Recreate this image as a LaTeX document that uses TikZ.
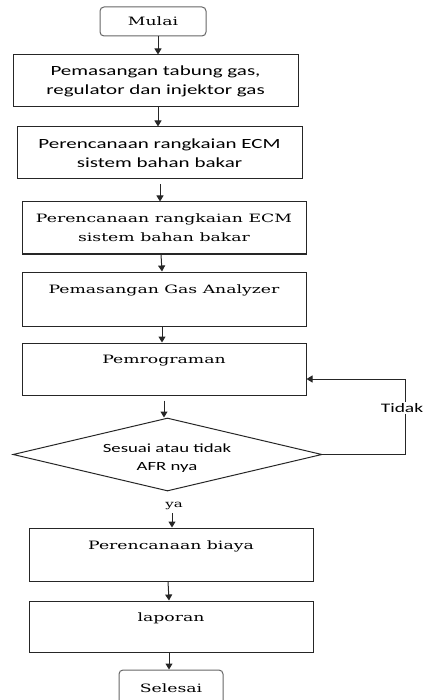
\documentclass[tikz,border=0pt]{standalone}
\usepackage{fontspec}
\usetikzlibrary{arrows.meta,shapes.geometric}
\newfontfamily\sansf[FakeStretch=1.5]{Carlito}
\newfontfamily\seriff[FakeStretch=1.5]{DejaVu Serif}
\begin{document}
\begin{tikzpicture}[x=1pt,y=-1pt,
  box/.style={draw=black!85,line width=1pt,rectangle,inner sep=0pt,align=center},
  rbox/.style={draw=black!60,line width=1pt,rectangle,rounded corners=4pt,inner sep=0pt,align=center},
  stxt/.style={font=\sansf\fontsize{14}{19}\selectfont},
  rtxt/.style={font=\seriff\fontsize{11.5}{19}\selectfont},
  arr/.style={draw=black!85,line width=1pt,-{Triangle[length=6pt,width=7pt]}},
  ln/.style={draw=black!85,line width=1pt}]
\useasboundingbox (0,0) rectangle (424,700);
\node[rbox,rtxt,minimum width=106pt,minimum height=29pt] (m) at (153,21.5) {Mulai};
\node[box,stxt,minimum width=285pt,minimum height=52pt] (b1) at (155.5,81) {Pemasangan tabung gas,\\regulator dan injektor gas};
\node[box,stxt,minimum width=285pt,minimum height=52pt] (b2) at (159.5,153) {Perencanaan rangkaian ECM\\sistem bahan bakar};
\node[box,rtxt,minimum width=284pt,minimum height=52pt] (b3) at (164,228) {Perencanaan rangkaian ECM\\sistem bahan bakar};
\node[box,rtxt,minimum width=284pt,minimum height=54pt] (b4) at (164,299) {Pemasangan Gas Analyzer\\\mbox{}};
\node[box,rtxt,minimum width=284pt,minimum height=52pt] (b5) at (164,369) {Pemrograman\\\mbox{}};
\node[diamond,draw=black!85,line width=1pt,inner sep=0pt,minimum width=309pt,minimum height=73pt] (d) at (167.5,454.5) {};
\node[font=\sansf\fontsize{12.5}{18}\selectfont,align=center] (dt) at (167,458) {Sesuai atau tidak\\AFR nya};
\node[font=\seriff\fontsize{10}{12}\selectfont] (ya) at (174,506) {ya};
\node[box,rtxt,minimum width=284pt,minimum height=53pt] (b6) at (171,554.5) {Perencanaan biaya\\\mbox{}};
\node[box,rtxt,minimum width=284pt,minimum height=51pt] (b7) at (171,626.5) {laporan\\\mbox{}};
\node[rbox,rtxt,minimum width=104pt,minimum height=36pt] (s) at (171,688) {Selesai};
\draw[arr] ([xshift=5pt]m.south) -- ([xshift=2.5pt]b1.north);
\draw[arr] ([xshift=2.5pt]b1.south) -- ([xshift=-1.5pt]b2.north);
\draw[arr] ([xshift=0.5pt,yshift=-5pt]b2.south) -- ([xshift=-4pt]b3.north);
\draw[arr] ([xshift=-3pt]b3.south) -- ([xshift=-2pt]b4.north);
\draw[arr] ([xshift=-2pt]b4.south) -- ([xshift=-2pt]b5.north);
\draw[arr] ([xshift=0pt,yshift=-5pt]b5.south) -- ([xshift=-3.5pt]d.north);
\draw[arr] ([xshift=-2pt]ya.south) -- ([xshift=1pt]b6.north);
\draw[arr] ([xshift=-3pt]b6.south) -- ([xshift=-2pt]b7.north);
\draw[arr] ([xshift=-2pt]b7.south) -- ([xshift=-2pt]s.north);
\coordinate (c1) at (405,454.5);
\draw[ln] (d.east) -- (c1);
\draw[arr] (c1) |- ([yshift=-10pt]b5.east);
\node[font=\sansf\fontsize{13}{15}\selectfont,fill=white,inner sep=1pt] (t) at (402,408) {Tidak};
\end{tikzpicture}
\end{document}
